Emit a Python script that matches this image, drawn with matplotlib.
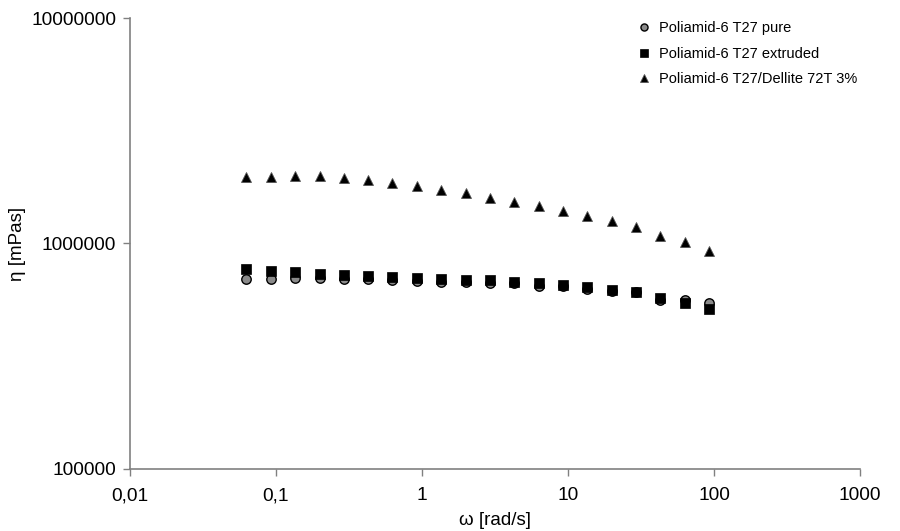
import matplotlib
matplotlib.use('Agg')
import matplotlib.pyplot as plt
from matplotlib.ticker import FixedLocator, FixedFormatter, NullLocator

plt.rcParams['font.family'] = ['Liberation Sans', 'DejaVu Sans']

# angular frequency [rad/s]
omega = [0.0628, 0.0922, 0.135, 0.199, 0.292, 0.428, 0.628, 0.922, 1.35, 1.99,
         2.92, 4.28, 6.28, 9.22, 13.5, 19.9, 29.2, 42.8, 62.8, 92.2]

# viscosity [mPas]
eta_pure = [6.96e5, 6.96e5, 7.03e5, 7.03e5, 6.94e5, 6.96e5, 6.89e5, 6.85e5, 6.78e5, 6.73e5,
            6.71e5, 6.66e5, 6.51e5, 6.45e5, 6.28e5, 6.16e5, 6.10e5, 5.64e5, 5.60e5, 5.43e5]
eta_extruded = [7.68e5, 7.55e5, 7.45e5, 7.34e5, 7.27e5, 7.15e5, 7.10e5, 7.03e5, 6.98e5, 6.91e5,
                6.87e5, 6.73e5, 6.70e5, 6.53e5, 6.41e5, 6.24e5, 6.10e5, 5.73e5, 5.45e5, 5.11e5]
eta_dellite = [1.966e6, 1.978e6, 2.0e6, 2.0e6, 1.946e6, 1.912e6, 1.849e6, 1.799e6, 1.727e6, 1.669e6,
               1.596e6, 1.532e6, 1.467e6, 1.389e6, 1.328e6, 1.258e6, 1.180e6, 1.080e6, 1.016e6, 9.29e5]

labels = ['Poliamid-6 T27 pure', 'Poliamid-6 T27 extruded', 'Poliamid-6 T27/Dellite 72T 3%']

x_ticks = [0.01, 0.1, 1, 10, 100, 1000]
x_tick_labels = ['0,01', '0,1', '1', '10', '100', '1000']
y_ticks = [1e5, 1e6, 1e7]
y_tick_labels = ['100000', '1000000', '10000000']

fig = plt.figure(figsize=(9, 5.31), dpi=100)
ax = fig.add_axes([0.1444, 0.1168, 0.8112, 0.8493])

ax.plot(omega, eta_pure, 'o', ms=6.8, mfc='#8a8a8a', mec='black', mew=1.0,
        label=labels[0])
ax.plot(omega, eta_extruded, 's', ms=7.2, mfc='black', mec='black', mew=0.5,
        label=labels[1])
ax.plot(omega, eta_dellite, '^', ms=7.8, mfc='black', mec='#555555', mew=0.6,
        label=labels[2])

ax.set_xscale('log')
ax.set_yscale('log')
ax.set_xlim(0.01, 1000)
ax.set_ylim(1e5, 1e7)

ax.xaxis.set_major_locator(FixedLocator(x_ticks))
ax.xaxis.set_major_formatter(FixedFormatter(x_tick_labels))
ax.xaxis.set_minor_locator(NullLocator())
ax.yaxis.set_major_locator(FixedLocator(y_ticks))
ax.yaxis.set_major_formatter(FixedFormatter(y_tick_labels))
ax.yaxis.set_minor_locator(NullLocator())

for side in ['top', 'right']:
    ax.spines[side].set_visible(False)
for side in ['left', 'bottom']:
    ax.spines[side].set_color('#808080')
    ax.spines[side].set_linewidth(1.2)

ax.tick_params(axis='both', direction='out', length=5, width=1.0, color='#808080',
               labelsize=13.8, labelcolor='black')
ax.tick_params(axis='x', pad=8)
ax.tick_params(axis='y', pad=5)

ax.set_xlabel('ω [rad/s]', fontsize=13.5, labelpad=6)
ax.set_ylabel('η [mPas]', fontsize=13.5)
ax.yaxis.set_label_coords(-0.142, 0.5)

ax.legend(loc='upper left', bbox_to_anchor=(0.693, 0.985), bbox_transform=fig.transFigure,
          frameon=False, fontsize=10.5, handlelength=1.0, handletextpad=0.55,
          labelspacing=0.8, markerscale=0.75)

fig.savefig('out.png', dpi=100)
